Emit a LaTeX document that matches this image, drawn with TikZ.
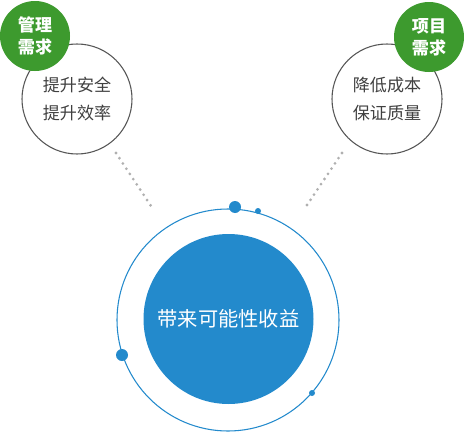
\documentclass[tikz,border=0pt]{standalone}
\usepackage{fontspec}
\newfontfamily\cjk{Noto Sans CJK SC}
\definecolor{grn}{HTML}{3D9A2E}
\definecolor{blu}{HTML}{238ACC}
\definecolor{dotg}{HTML}{B0B0B0}
\definecolor{edge}{HTML}{555555}
\begin{document}
\begin{tikzpicture}[x=0.75pt,y=-0.75pt,
  needc/.style={circle,draw=edge,line width=0.8pt,fill=white,minimum size=82.5pt,inner sep=0pt,align=center,font=\cjk\fontsize{12.8pt}{20.5pt}\selectfont,text=black!75},
  tagc/.style={circle,fill=grn,minimum size=52.5pt,inner sep=0pt,align=center,font=\cjk\bfseries\fontsize{12.8pt}{16.5pt}\selectfont,text=white},
  dotline/.style={dotg,line width=2.3pt,line cap=round,dash pattern=on 0pt off 4.7pt},
  bead/.style={circle,fill=blu,inner sep=0pt}]
\useasboundingbox (0,0) rectangle (464,432);
% connectors
\coordinate (l1) at (116,153);
\coordinate (l2) at (151,206);
\coordinate (r1) at (342,153);
\coordinate (r2) at (307,205);
\draw[dotline] (l1) -- (l2);
\draw[dotline] (r1) -- (r2);
% left
\node[needc] (lc) at (77,99) {提升安全\\提升效率};
\node[tagc] (lt) at (35,36) {管理\\需求};
% right
\node[needc] (rc) at (387,99) {降低成本\\保证质量};
\node[tagc] (rt) at (429,37) {项目\\需求};
% center
\node[circle,draw=blu,line width=0.8pt,minimum size=166.5pt,inner sep=0pt] (ring) at (228,320) {};
\node[circle,fill=blu,minimum size=127.5pt,inner sep=0pt,text=white,font=\cjk\fontsize{15.2pt}{17pt}\selectfont] (core) at (228.5,319) {带来可能性收益};
\node[bead,minimum size=9pt] (b1) at (235,207) {};
\node[bead,minimum size=4.5pt] (b2) at (258,211) {};
\node[bead,minimum size=9pt] (b3) at (122,355) {};
\node[bead,minimum size=4.5pt] (b4) at (312,393) {};
\end{tikzpicture}
\end{document}
